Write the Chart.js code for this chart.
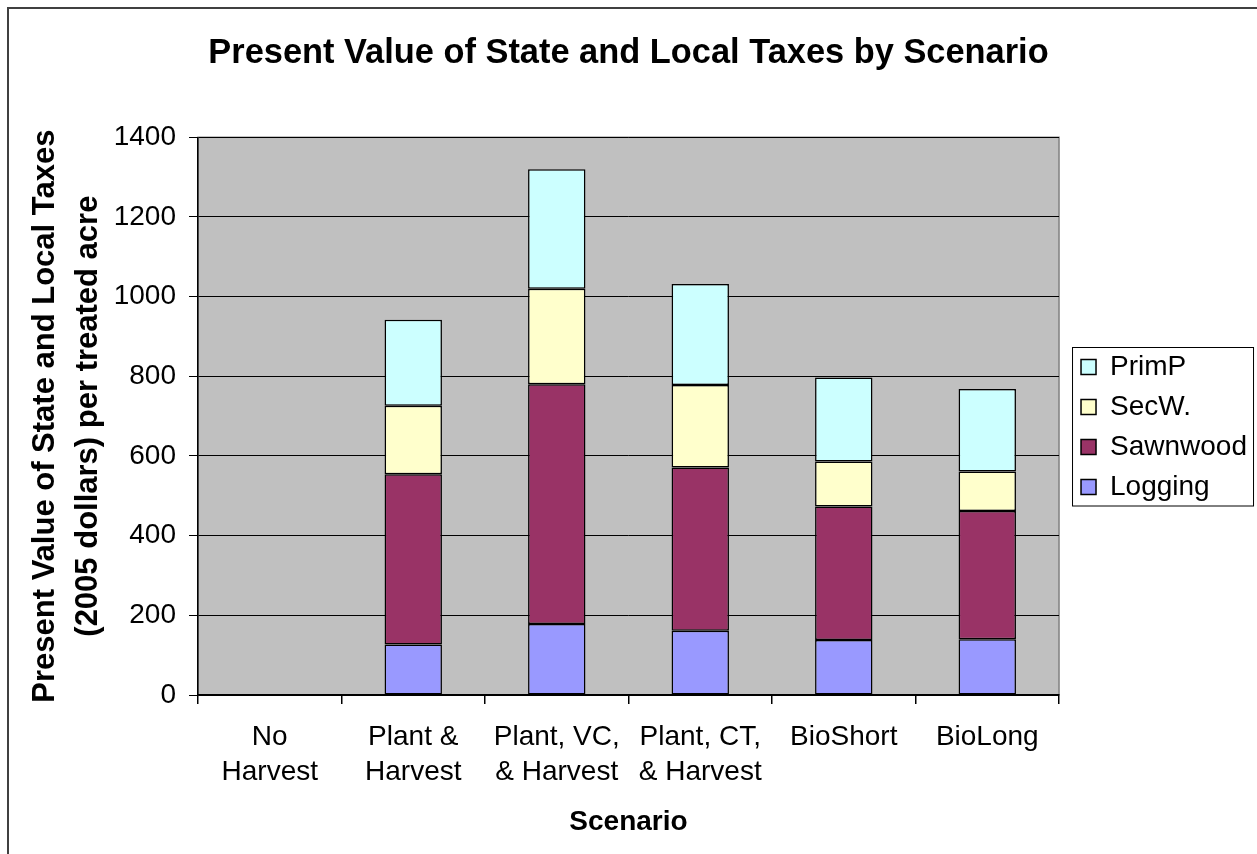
<!DOCTYPE html>
<html>
<head>
<meta charset="utf-8">
<title>Present Value of State and Local Taxes by Scenario</title>
<script src="https://cdn.jsdelivr.net/npm/chart.js@4.4.1/dist/chart.umd.min.js"></script>
<style>
  body { margin: 0; background: #fff; }
  canvas { display: block; }
</style>
</head>
<body>
<canvas id="taxChart" width="1257" height="854"></canvas>
<script>
const scenarios = [
  ["No", "Harvest"],
  ["Plant &", "Harvest"],
  ["Plant, VC,", "& Harvest"],
  ["Plant, CT,", "& Harvest"],
  "BioShort",
  "BioLong"
];
const logging = [0, 127, 178, 161, 138, 140];
const sawnwood = [0, 427, 602, 410, 335, 322];
const secW = [0, 172, 240, 207, 113, 99];
const primP = [0, 216, 300, 254, 211, 207];
const yTicks = [0, 200, 400, 600, 800, 1000, 1200, 1400];

const fontFamily = "'Liberation Sans', Arial, Helvetica, sans-serif";

// plot background, chart frame and legend box
const excelLook = {
  id: "excelLook",
  beforeDraw(chart) {
    const { ctx, chartArea: a } = chart;
    ctx.save();
    ctx.fillStyle = "#fff";
    ctx.fillRect(0, 0, chart.width, chart.height);
    ctx.strokeStyle = "#404040";
    ctx.lineWidth = 2;
    ctx.beginPath();
    ctx.moveTo(8, chart.height);
    ctx.lineTo(8, 8);
    ctx.lineTo(chart.width, 8);
    ctx.stroke();
    ctx.fillStyle = "#C0C0C0";
    ctx.fillRect(a.left, a.top, a.right - a.left, a.bottom - a.top);
    ctx.strokeStyle = "#808080";
    ctx.lineWidth = 1.5;
    ctx.strokeRect(a.left, a.top, a.right - a.left, a.bottom - a.top);
    ctx.restore();
  },
  afterDraw(chart) {
    const boxes = chart.legend && chart.legend.legendHitBoxes;
    if (!boxes || !boxes.length) return;
    const first = boxes[0];
    const last = boxes[boxes.length - 1];
    const ctx = chart.ctx;
    ctx.save();
    ctx.strokeStyle = "#000";
    ctx.lineWidth = 1;
    const left = first.left - 8.5;
    const top = first.top - 5.5;
    ctx.strokeRect(left, top, 181, last.top + last.height + 5 - top);
    ctx.restore();
  }
};

const ctx = document.getElementById("taxChart").getContext("2d");

new Chart(ctx, {
  type: "bar",
  data: {
    labels: scenarios,
    datasets: [
      { label: "Logging", data: logging, backgroundColor: "#9999FF" },
      { label: "Sawnwood", data: sawnwood, backgroundColor: "#993366" },
      { label: "SecW.", data: secW, backgroundColor: "#FFFFCC" },
      { label: "PrimP", data: primP, backgroundColor: "#CCFFFF" }
    ].map((d) => ({
      ...d,
      borderColor: "#000",
      borderWidth: 1.5,
      borderSkipped: false,
      categoryPercentage: 0.4,
      barPercentage: 1
    }))
  },
  options: {
    responsive: false,
    animation: false,
    layout: { padding: { left: 0, right: 0, top: 0, bottom: 0 } },
    plugins: {
      title: {
        display: true,
        text: "Present Value of State and Local Taxes by Scenario",
        color: "#000",
        font: { family: fontFamily, size: 34.4, weight: "bold", lineHeight: 1.2 },
        padding: { top: 33, bottom: 63 }
      },
      legend: {
        position: "right",
        reverse: true,
        labels: {
          color: "#000",
          boxWidth: 15,
          boxHeight: 15,
          padding: 12,
          font: { family: fontFamily, size: 28 }
        }
      },
      tooltip: { enabled: false }
    },
    scales: {
      x: {
        stacked: true,
        grid: {
          display: true,
          offset: true,
          drawOnChartArea: false,
          drawTicks: true,
          tickLength: 9,
          color: "#000",
          lineWidth: 1.5
        },
        border: { display: true, color: "#000", width: 1.5 },
        ticks: {
          color: "#000",
          padding: 16,
          maxRotation: 0,
          autoSkip: false,
          font: { family: fontFamily, size: 28, lineHeight: 1.25 }
        },
        title: {
          display: true,
          text: "Scenario",
          color: "#000",
          font: { family: fontFamily, size: 28, weight: "bold", lineHeight: 1.25 },
          padding: { top: 4, bottom: 14 }
        },
        afterFit(scale) {
          scale.height = 159;
        }
      },
      y: {
        stacked: true,
        min: 0,
        max: 1400,
        afterBuildTicks(scale) {
          scale.ticks = yTicks.map((v) => ({ value: v }));
        },
        grid: {
          color: "#000",
          lineWidth: 1,
          tickLength: 9,
          drawTicks: true
        },
        border: { display: true, color: "#000", width: 1.5 },
        ticks: {
          color: "#000",
          padding: 13,
          font: { family: fontFamily, size: 28 },
          callback: (value) => String(value)
        },
        title: {
          display: true,
          text: ["Present Value of State and Local Taxes", "(2005 dollars) per treated acre"],
          color: "#000",
          font: { family: fontFamily, size: 31, weight: "bold", lineHeight: 1.39 },
          padding: { top: 24, bottom: 0 }
        },
        afterFit(scale) {
          scale.width = 198;
        }
      },
      gap: {
        type: "linear",
        position: "right",
        display: true,
        min: 0,
        max: 1,
        grid: { display: false, drawTicks: false },
        border: { display: false },
        ticks: { display: false },
        afterFit(scale) {
          scale.width = 10;
        }
      }
    }
  },
  plugins: [excelLook]
});
</script>
</body>
</html>
